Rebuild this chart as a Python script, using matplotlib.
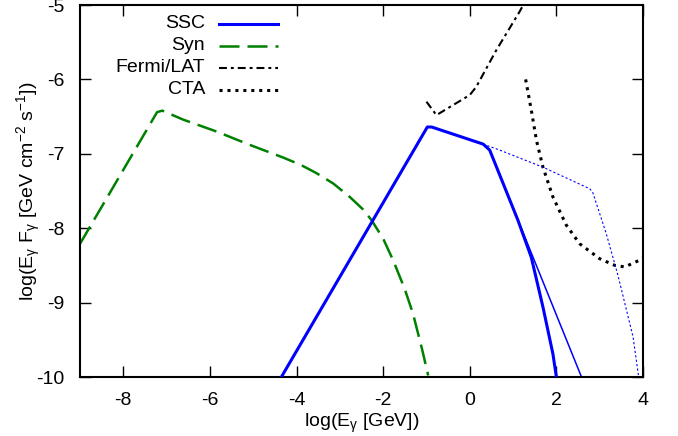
import numpy as np
import matplotlib.pyplot as plt

plt.rcParams['font.family'] = ['Liberation Sans', 'DejaVu Sans']
plt.rcParams['mathtext.fontset'] = 'custom'
plt.rcParams['mathtext.rm'] = 'Liberation Sans'
plt.rcParams['mathtext.it'] = 'Liberation Sans'
plt.rcParams['axes.unicode_minus'] = False

# SSC (thick), escaping branch (thin) and unabsorbed (dotted)
ssc_x = [-4.35, -0.98, -0.88, 0.31, 0.46, 1.11, 1.42, 1.69, 1.92, 2.0]
ssc_y = [-10.0, -6.64, -6.64, -6.87, -6.95, -7.89, -8.39, -9.06, -9.69, -10.0]
thin_x = [0.31, 0.46, 2.58]
thin_y = [-6.87, -6.95, -10.0]
unabs_x = [0.31, 0.69, 1.69, 2.77, 2.84, 3.15, 3.42, 3.77, 3.90]
unabs_y = [-6.87, -6.95, -7.18, -7.47, -7.52, -8.07, -8.63, -9.46, -10.0]

# synchrotron
syn_x = [-9.0, -7.22, -7.1, -6.62, -5.85, -5.08, -4.31, -3.9, -3.54, -3.15, -2.77, -2.46, -2.27,
         -2.0, -1.77, -1.5, -1.31, -1.1, -0.96]
syn_y = [-8.21, -6.44, -6.42, -6.54, -6.70, -6.88, -7.05, -7.15, -7.26, -7.40, -7.58, -7.75, -7.89,
         -8.14, -8.43, -8.82, -9.15, -9.63, -9.98]

# sensitivities
fermi_x = [-1.0, -0.77, 0.0, 0.15, 0.61, 1.15, 1.3]
fermi_y = [-6.30, -6.48, -6.21, -6.10, -5.61, -5.09, -4.93]
cta_x = [1.29, 1.42, 1.54, 1.69, 1.92, 2.23, 2.54, 3.0, 3.35, 3.58, 3.92, 4.0]
cta_y = [-6.0, -6.41, -6.82, -7.18, -7.58, -7.96, -8.21, -8.41, -8.50, -8.52, -8.43, -8.40]

labels = ['SSC', 'Syn', 'Fermi/LAT', 'CTA']

f = plt.figure(figsize=(6.78, 4.36), dpi=100)
ax = f.add_axes([80/678, 59/436, 563/678, 372/436])

styles = [dict(color='blue', lw=2.2),
          dict(color='green', lw=1.8, dashes=(8, 3.2)),
          dict(color='black', lw=1.5, dashes=(3.8, 1.9, 1.4, 1.9)),
          dict(color='black', lw=2.2, dashes=(1, 1.6))]

ax.plot(ssc_x, ssc_y, zorder=5, **styles[0])
ax.plot(syn_x, syn_y, **styles[1])
ax.plot(fermi_x, fermi_y, **styles[2])
ax.plot(cta_x, cta_y, **styles[3])
ax.plot(thin_x, thin_y, color='blue', lw=1.1)
ax.plot(unabs_x, unabs_y, color='blue', lw=0.8, dashes=(2, 2))

# gnuplot-like key: right-aligned text, sample line on the right
for i, (lab, st) in enumerate(zip(labels, styles)):
    yk = 0.949 - i * 0.059
    ax.text(0.222, yk, lab, transform=ax.transAxes, ha='right', va='center', fontsize=14)
    ax.plot([0.247, 0.352], [yk, yk], transform=ax.transAxes, **st)

ax.set_xlim(-9, 4)
ax.set_ylim(-10, -5)
ax.set_xticks(np.arange(-8, 5, 2))
ax.set_yticks(np.arange(-10, -4, 1))
ax.tick_params(direction='in', top=True, right=True, length=8, width=1, labelsize=14, pad=11)
for s in ax.spines.values():
    s.set_linewidth(1.5)
ax.xaxis.get_major_ticks()[1].tick2line.set_visible(False)
ax.yaxis.get_major_ticks()[-1].tick2line.set_visible(False)

ax.set_xlabel(r'log(E$_\gamma$ [GeV])', fontsize=14, labelpad=2)
ax.set_ylabel(r'log(E$_\gamma$ F$_\gamma$ [GeV cm$^{-2}$ s$^{-1}$])', fontsize=14, labelpad=-5)

f.savefig('out.png', dpi=100)
plt.close(f)
